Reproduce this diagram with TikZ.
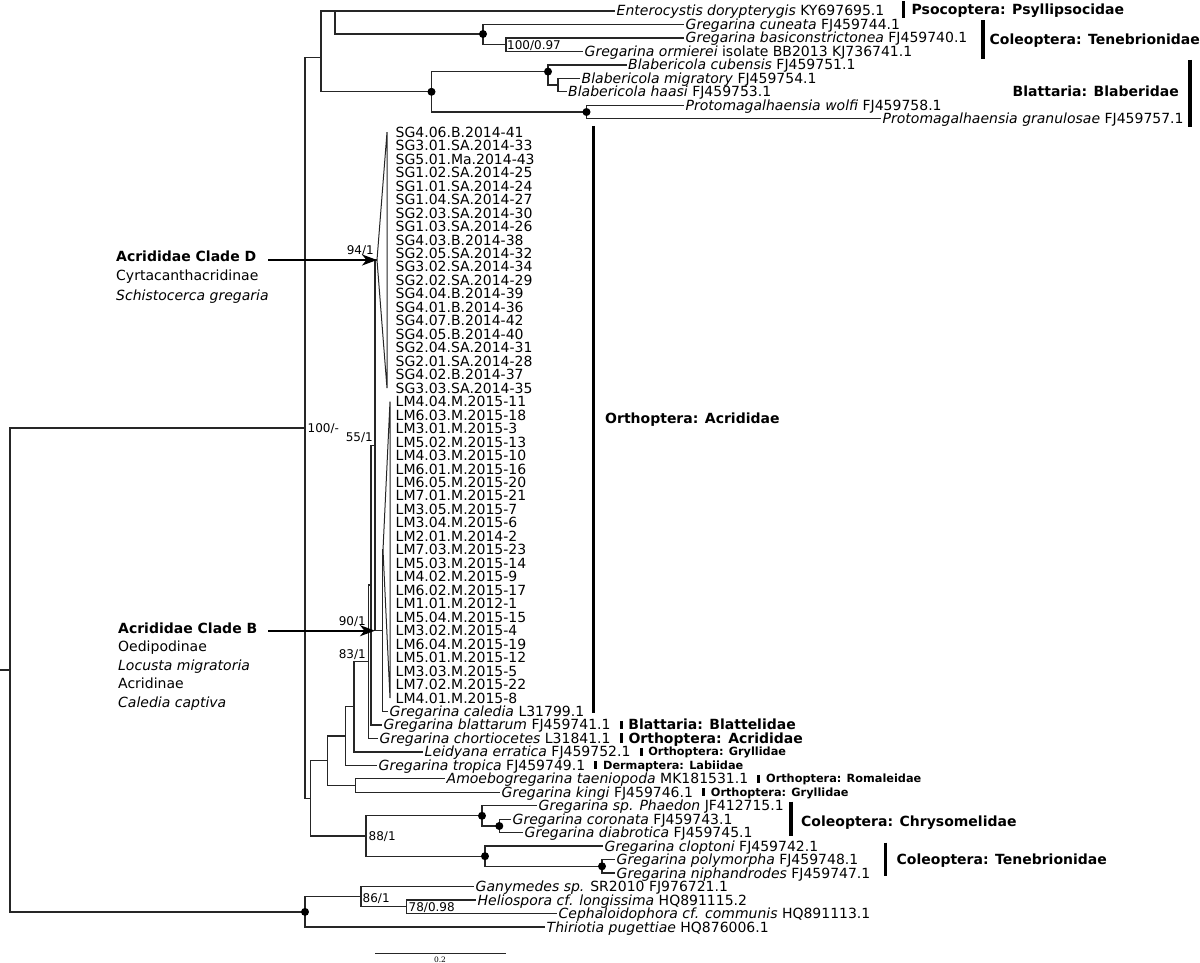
\documentclass[tikz,border=0pt]{standalone}
\usepackage{fontspec}
\setmainfont{DejaVu Sans}
\newfontfamily\barfont{DejaVu Serif}
\usetikzlibrary{arrows.meta,positioning}

\tikzset{
  branch/.style={draw=black!85, line width=1.3pt},
  fan/.style={draw=black!85, line width=1pt, line join=miter},
  tip/.style={anchor=west, inner xsep=1.5pt, inner ysep=0pt, text height=10pt, text depth=0pt, font=\fontsize{14}{16}\selectfont},
  support/.style={inner sep=0pt, text height=8.7pt, text depth=0pt, font=\fontsize{12}{14}\selectfont},
  bigdot/.style={circle, fill=black, inner sep=0pt, minimum size=8pt},
  groupbar/.style={draw=black, line width=3.5pt},
  smallbar/.style={draw=black, line width=3pt},
  grp/.style={anchor=west, inner sep=0pt, text height=10pt, text depth=0pt, font=\fontsize{14}{16}\selectfont\bfseries},
  grpsmall/.style={grp, text height=8pt, font=\fontsize{11.3}{13}\selectfont\bfseries},
  cladearrow/.style={draw=black, line width=2pt, -{Stealth[length=15pt, width=11pt, inset=4.5pt]}},
}

\begin{document}
\begin{tikzpicture}[x=1pt, y=-1pt]
  \useasboundingbox (0,0) rectangle (1200,963);

  % inner nodes of the tree
  \coordinate (stub) at (0,670);
  \coordinate (root) at (10,670);
  \coordinate (A)   at (305,428);
  \coordinate (B)   at (321,57.6);
  \coordinate (c1)  at (335,11);
  \coordinate (c2)  at (483,34);
  \coordinate (c2b) at (506,44.7);
  \coordinate (c3)  at (431.5,91.8);
  \coordinate (c4)  at (548,71.6);
  \coordinate (c5)  at (558,85.1);
  \coordinate (c6)  at (586.5,112);
  \coordinate (n1)  at (382.3,630.7);
  \coordinate (n2)  at (375,445.4);
  \coordinate (n3)  at (371,585.1);
  \coordinate (n4)  at (368.3,661.7);
  \coordinate (n5)  at (354,706.8);
  \coordinate (n6)  at (345.7,736.1);
  \coordinate (n7)  at (327.3,760.8);
  \coordinate (n8)  at (355.5,785.5);
  \coordinate (n9)  at (310.7,798.4);
  \coordinate (C)   at (366,836);
  \coordinate (D)   at (482,815.8);
  \coordinate (E)   at (499.3,826);
  \coordinate (F)   at (485,856.2);
  \coordinate (G)   at (602,866.3);
  \coordinate (K)   at (305,911.9);
  \coordinate (H)   at (361,896.7);
  \coordinate (I)   at (406.7,906.8);

  % collapsed clades
  \coordinate (sgapex) at (377,260);
  \coordinate (sgtop)  at (387,132.2);
  \coordinate (sgbot)  at (387,388.2);
  \coordinate (lmapex) at (383,550);
  \coordinate (lmtop)  at (390,401.6);
  \coordinate (lmbot)  at (390,698);

  % tips
  \node[tip] (ent) at (615,11)    {\textit{Enterocystis dorypterygis} KY697695.1};
  \node[tip] (cun) at (684,24.5)  {\textit{Gregarina cuneata} FJ459744.1};
  \node[tip] (bas) at (684,37.9)  {\textit{Gregarina basiconstrictonea} FJ459740.1};
  \node[tip] (orm) at (583,51.4)  {\textit{Gregarina ormierei} isolate BB2013 KJ736741.1};
  \node[tip] (cub) at (626.5,64.9){\textit{Blabericola cubensis} FJ459751.1};
  \node[tip] (mig) at (580,78.4)  {\textit{Blabericola migratory} FJ459754.1};
  \node[tip] (haa) at (566.5,91.8){\textit{Blabericola haasi} FJ459753.1};
  \node[tip] (wol) at (684,105.3) {\textit{Protomagalhaensia wolfi} FJ459758.1};
  \node[tip] (gra) at (881,118.8) {\textit{Protomagalhaensia granulosae} FJ459757.1};

  \node[tip] (sg1)  at (394,132.2) {SG4.06.B.2014-41};
  \node[tip] (sg2)  at (394,145.7) {SG3.01.SA.2014-33};
  \node[tip] (sg3)  at (394,159.2) {SG5.01.Ma.2014-43};
  \node[tip] (sg4)  at (394,172.6) {SG1.02.SA.2014-25};
  \node[tip] (sg5)  at (394,186.1) {SG1.01.SA.2014-24};
  \node[tip] (sg6)  at (394,199.6) {SG1.04.SA.2014-27};
  \node[tip] (sg7)  at (394,213.1) {SG2.03.SA.2014-30};
  \node[tip] (sg8)  at (394,226.5) {SG1.03.SA.2014-26};
  \node[tip] (sg9)  at (394,240.0) {SG4.03.B.2014-38};
  \node[tip] (sg10) at (394,253.5) {SG2.05.SA.2014-32};
  \node[tip] (sg11) at (394,266.9) {SG3.02.SA.2014-34};
  \node[tip] (sg12) at (394,280.4) {SG2.02.SA.2014-29};
  \node[tip] (sg13) at (394,293.9) {SG4.04.B.2014-39};
  \node[tip] (sg14) at (394,307.3) {SG4.01.B.2014-36};
  \node[tip] (sg15) at (394,320.8) {SG4.07.B.2014-42};
  \node[tip] (sg16) at (394,334.3) {SG4.05.B.2014-40};
  \node[tip] (sg17) at (394,347.7) {SG2.04.SA.2014-31};
  \node[tip] (sg18) at (394,361.2) {SG2.01.SA.2014-28};
  \node[tip] (sg19) at (394,374.7) {SG4.02.B.2014-37};
  \node[tip] (sg20) at (394,388.2) {SG3.03.SA.2014-35};

  \node[tip] (lm1)  at (394,401.6) {LM4.04.M.2015-11};
  \node[tip] (lm2)  at (394,415.1) {LM6.03.M.2015-18};
  \node[tip] (lm3)  at (394,428.6) {LM3.01.M.2015-3};
  \node[tip] (lm4)  at (394,442.0) {LM5.02.M.2015-13};
  \node[tip] (lm5)  at (394,455.5) {LM4.03.M.2015-10};
  \node[tip] (lm6)  at (394,469.0) {LM6.01.M.2015-16};
  \node[tip] (lm7)  at (394,482.4) {LM6.05.M.2015-20};
  \node[tip] (lm8)  at (394,495.9) {LM7.01.M.2015-21};
  \node[tip] (lm9)  at (394,509.4) {LM3.05.M.2015-7};
  \node[tip] (lm10) at (394,522.8) {LM3.04.M.2015-6};
  \node[tip] (lm11) at (394,536.3) {LM2.01.M.2014-2};
  \node[tip] (lm12) at (394,549.8) {LM7.03.M.2015-23};
  \node[tip] (lm13) at (394,563.3) {LM5.03.M.2015-14};
  \node[tip] (lm14) at (394,576.7) {LM4.02.M.2015-9};
  \node[tip] (lm15) at (394,590.2) {LM6.02.M.2015-17};
  \node[tip] (lm16) at (394,603.7) {LM1.01.M.2012-1};
  \node[tip] (lm17) at (394,617.1) {LM5.04.M.2015-15};
  \node[tip] (lm18) at (394,630.6) {LM3.02.M.2015-4};
  \node[tip] (lm19) at (394,644.1) {LM6.04.M.2015-19};
  \node[tip] (lm20) at (394,657.5) {LM5.01.M.2015-12};
  \node[tip] (lm21) at (394,671.0) {LM3.03.M.2015-5};
  \node[tip] (lm22) at (394,684.5) {LM7.02.M.2015-22};
  \node[tip] (lm23) at (394,698.0) {LM4.01.M.2015-8};

  \node[tip] (cal) at (388,711.4) {\textit{Gregarina caledia} L31799.1};
  \node[tip] (bla) at (382,724.9) {\textit{Gregarina blattarum} FJ459741.1};
  \node[tip] (cho) at (378,738.4) {\textit{Gregarina chortiocetes} L31841.1};
  \node[tip] (lei) at (423,751.9) {\textit{Leidyana erratica} FJ459752.1};
  \node[tip] (tro) at (377,765.3) {\textit{Gregarina tropica} FJ459749.1};
  \node[tip] (amo) at (445,778.8) {\textit{Amoebogregarina taeniopoda} MK181531.1};
  \node[tip] (kin) at (500,792.3) {\textit{Gregarina kingi} FJ459746.1};
  \node[tip] (pha) at (537,805.7) {\textit{Gregarina sp. Phaedon} JF412715.1};
  \node[tip] (cor) at (511,819.2) {\textit{Gregarina coronata} FJ459743.1};
  \node[tip] (dia) at (523,832.7) {\textit{Gregarina diabrotica} FJ459745.1};
  \node[tip] (clo) at (603,846.1) {\textit{Gregarina cloptoni} FJ459742.1};
  \node[tip] (pol) at (615,859.6) {\textit{Gregarina polymorpha} FJ459748.1};
  \node[tip] (nip) at (615,873.1) {\textit{Gregarina niphandrodes} FJ459747.1};
  \node[tip] (gan) at (474,886.6) {\textit{Ganymedes sp.} SR2010 FJ976721.1};
  \node[tip] (hel) at (476,900.0) {\textit{Heliospora cf. longissima} HQ891115.2};
  \node[tip] (cep) at (557,913.5) {\textit{Cephaloidophora cf. communis} HQ891113.1};
  \node[tip] (thi) at (545,927.0) {\textit{Thiriotia pugettiae} HQ876006.1};

  % branches
  \begin{scope}[every path/.style={branch}]
    \draw (stub) -- (root);
    \draw (root) |- (A);   \draw (root) |- (K);
    \draw (A) |- (B);      \draw (A) |- (n9);
    \draw (B) |- (c1);     \draw (B) |- (c3);
    \draw (c1) |- (ent);   \draw (c1) |- (c2);
    \draw (c2) |- (cun);   \draw (c2) |- (c2b);
    \draw (c2b) |- (bas);  \draw (c2b) |- (orm);
    \draw (c3) |- (c4);    \draw (c3) |- (c6);
    \draw (c4) |- (cub);   \draw (c4) |- (c5);
    \draw (c5) |- (mig);   \draw (c5) |- (haa);
    \draw (c6) |- (wol);   \draw (c6) |- (gra);
    \draw (n9) |- (n7);    \draw (n9) |- (C);
    \draw (n7) |- (n6);    \draw (n7) |- (n8);
    \draw (n8) |- (amo);   \draw (n8) |- (kin);
    \draw (n6) |- (n5);    \draw (n6) |- (tro);
    \draw (n5) |- (n4);    \draw (n5) |- (lei);
    \draw (n4) |- (n3);    \draw (n4) |- (cho);
    \draw (n3) |- (n2);    \draw (n3) |- (bla);
    \draw (n2) |- (sgapex); \draw (n2) |- (n1);
    \draw (n1) |- (lmapex); \draw (n1) |- (cal);
    \draw (C) |- (D);      \draw (C) |- (F);
    \draw (D) |- (pha);    \draw (D) |- (E);
    \draw (E) |- (cor);    \draw (E) |- (dia);
    \draw (F) |- (clo);    \draw (F) |- (G);
    \draw (G) |- (pol);    \draw (G) |- (nip);
    \draw (K) |- (H);      \draw (K) |- (thi);
    \draw (H) |- (gan);    \draw (H) |- (I);
    \draw (I) |- (hel);    \draw (I) |- (cep);
  \end{scope}
  \draw[fan] (sgapex) -- (sgtop) -- (sgbot) -- cycle;
  \draw[fan] (lmapex) -- (lmtop) -- (lmbot) -- cycle;

  % supported nodes
  \node[bigdot] (d1) at (c2) {};
  \node[bigdot] (d2) at (c3) {};
  \node[bigdot] (d3) at (c4) {};
  \node[bigdot] (d4) at (c6) {};
  \node[bigdot] (d5) at (D) {};
  \node[bigdot] (d6) at (E) {};
  \node[bigdot] (d7) at (F) {};
  \node[bigdot] (d8) at (G) {};
  \node[bigdot] (d9) at (K) {};

  % support values
  \node[support, anchor=west] (s1) at (507,44.7)  {100/0.97};
  \node[support, anchor=west] (s2) at (307.5,428) {100/-};
  \node[support, anchor=east] (s3) at (374,250.5) {94/1};
  \node[support, anchor=east] (s4) at (373,436.7) {55/1};
  \node[support, anchor=east] (s5) at (366,621)   {90/1};
  \node[support, anchor=east] (s6) at (366,654)   {83/1};
  \node[support, anchor=west] (s7) at (368.5,836) {88/1};
  \node[support, anchor=west] (s8) at (362.5,898) {86/1};
  \node[support, anchor=west] (s9) at (408.5,907.5) {78/0.98};

  % host groups
  \coordinate (g1t) at (903.5,1.5);  \coordinate (g1b) at (903.5,18);
  \coordinate (g2t) at (983,20.5);   \coordinate (g2b) at (983,59.5);
  \coordinate (g3t) at (1190,60);    \coordinate (g3b) at (1190,127);
  \coordinate (g4t) at (593.5,126);  \coordinate (g4b) at (593.5,713);
  \coordinate (g11t) at (791,801.5); \coordinate (g11b) at (791,835.5);
  \coordinate (g12t) at (885.5,842.5); \coordinate (g12b) at (885.5,875.5);
  \draw[groupbar] (g1t) -- (g1b);
  \draw[groupbar] (g2t) -- (g2b);
  \draw[groupbar] (g3t) -- (g3b);
  \draw[groupbar] (g4t) -- (g4b);
  \draw[groupbar] (g11t) -- (g11b);
  \draw[groupbar] (g12t) -- (g12b);

  \node[grp] (psoc) at (911.5,10) {Psocoptera: Psyllipsocidae};
  \node[grp] (tene1) at (989.5,39.5) {Coleoptera: Tenebrionidae};
  \node[grp, anchor=east] (blab) at (1179,92) {Blattaria: Blaberidae};
  \node[grp] (acri) at (605,418) {Orthoptera: Acrididae};
  \node[grp] (chry) at (801,821.5) {Coleoptera: Chrysomelidae};
  \node[grp] (tene2) at (896.5,859) {Coleoptera: Tenebrionidae};

  % single-tip groups, set after their tips
  \coordinate (g5)  at ([xshift=9pt]bla.east);
  \coordinate (g6)  at ([xshift=9pt]cho.east);
  \coordinate (g7)  at ([xshift=9pt]lei.east);
  \coordinate (g8)  at ([xshift=9pt]tro.east);
  \coordinate (g9)  at ([xshift=9pt]amo.east);
  \coordinate (g10) at ([xshift=9pt]kin.east);
  \draw[groupbar] ([yshift=4pt]g5) -- ([yshift=-4pt]g5);
  \draw[groupbar] ([yshift=5pt]g6) -- ([yshift=-5pt]g6);
  \draw[smallbar] ([yshift=4pt]g7) -- ([yshift=-4pt]g7);
  \draw[smallbar] ([yshift=4pt]g8) -- ([yshift=-4pt]g8);
  \draw[smallbar] ([yshift=4pt]g9) -- ([yshift=-4pt]g9);
  \draw[smallbar] ([yshift=4pt]g10) -- ([yshift=-4pt]g10);
  \node[grp, right=7pt of g5] (blatt) {Blattaria: Blattelidae};
  \node[grp, right=7pt of g6] (acri2) {Orthoptera: Acrididae};
  \node[grpsmall, right=7pt of g7] (gryl1) {Orthoptera: Gryllidae};
  \node[grpsmall, right=7pt of g8] (derm) {Dermaptera: Labiidae};
  \node[grpsmall, right=7pt of g9] (roma) {Orthoptera: Romaleidae};
  \node[grpsmall, right=7pt of g10] (gryl2) {Orthoptera: Gryllidae};

  % clade notes on the left
  \node[grp] (cladeD) at (116,256) {Acrididae Clade D};
  \node[tip, inner xsep=0pt] (cyrta) at (116,275.5) {Cyrtacanthacridinae};
  \node[tip, inner xsep=0pt] (schisto) at (116,295) {\textit{Schistocerca gregaria}};
  \node[grp] (cladeB) at (118,628) {Acrididae Clade B};
  \node[tip, inner xsep=0pt] (oedi) at (118,646.5) {Oedipodinae};
  \node[tip, inner xsep=0pt] (locu) at (118,665) {\textit{Locusta migratoria}};
  \node[tip, inner xsep=0pt] (acrin) at (118,683.5) {Acridinae};
  \node[tip, inner xsep=0pt] (cale) at (118,702) {\textit{Caledia captiva}};

  \coordinate (darrow) at (268,260);
  \coordinate (barrow) at (268,630.7);
  \draw[cladearrow] (darrow) -- (sgapex);
  \draw[cladearrow] (barrow) -- (n2 |- n1);

  % scale bar
  \coordinate (sbl) at (375,953);
  \coordinate (sbr) at (506,953);
  \draw[draw=black!85, line width=1pt] (sbl) -- (sbr);
  \node[inner sep=0pt, font=\barfont\fontsize{7.5}{8}\selectfont] (sblab) at (440,959.5) {0.2};
\end{tikzpicture}
\end{document}
